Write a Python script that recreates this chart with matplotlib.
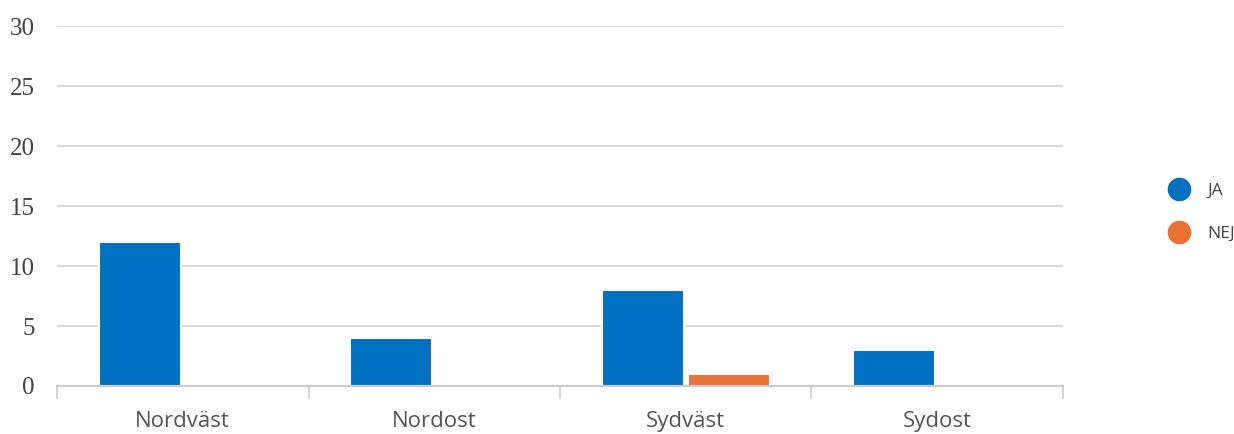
import matplotlib
matplotlib.use("Agg")
import matplotlib.pyplot as plt
import numpy as np
from matplotlib.lines import Line2D

# ── data ──────────────────────────────────────────────
categories = ["Nordväst", "Nordost", "Sydväst", "Sydost"]
ja_values  = [12, 4, 8, 3]
nej_values = [0, 0, 1, 0]
series     = ["JA", "NEJ"]
y_ticks    = [0, 5, 10, 15, 20, 25, 30]

BLUE   = "#0070C0"
ORANGE = "#E97132"
GRID   = "#d9d9d9"

fig = plt.figure(figsize=(12.34, 4.34), dpi=100)
ax = fig.add_axes([0.0462, 0.1106, 0.8152, 0.8294])

x = np.arange(len(categories))
w = 0.325
ax.bar(x - 0.171, ja_values, w, color=BLUE, edgecolor="white", linewidth=1.5, zorder=3)
ax.bar(x + 0.171, nej_values, w, color=ORANGE, edgecolor="white", linewidth=1.5, zorder=3)

ax.set_xlim(-0.5, len(categories) - 0.5)
ax.set_ylim(0, 30)
ax.set_yticks(y_ticks)
ax.set_yticklabels([str(v) for v in y_ticks], family="Liberation Serif",
                   fontsize=18, color="#444444")
ax.tick_params(axis="y", length=0, pad=16)
ax.grid(axis="y", color=GRID, linewidth=1.5, zorder=0)

ax.set_xticks(x)
ax.set_xticklabels(categories, family="Open Sans", fontsize=16, color="#555555")
ax.tick_params(axis="x", which="major", length=0, pad=18)
ax.set_xticks(np.arange(-0.5, len(categories)), minor=True)
ax.tick_params(axis="x", which="minor", length=9, width=1.2, color="#cccccc")

for s in ["top", "right", "left"]:
    ax.spines[s].set_visible(False)
ax.spines["bottom"].set_color("#cccccc")
ax.spines["bottom"].set_linewidth(1.5)
ax.spines["bottom"].set_zorder(4)

handles = [Line2D([], [], marker="o", linestyle="none", markersize=16,
                  markerfacecolor=c, markeredgecolor=c) for c in (BLUE, ORANGE)]
leg = fig.legend(handles, series, loc="center left", bbox_to_anchor=(0.929, 0.51),
                 frameon=False, fontsize=12.5, labelspacing=1.55, handletextpad=0.6)
for t in leg.get_texts():
    t.set_color("#444444")
    t.set_family("Open Sans")

fig.savefig("out.png", dpi=100)
